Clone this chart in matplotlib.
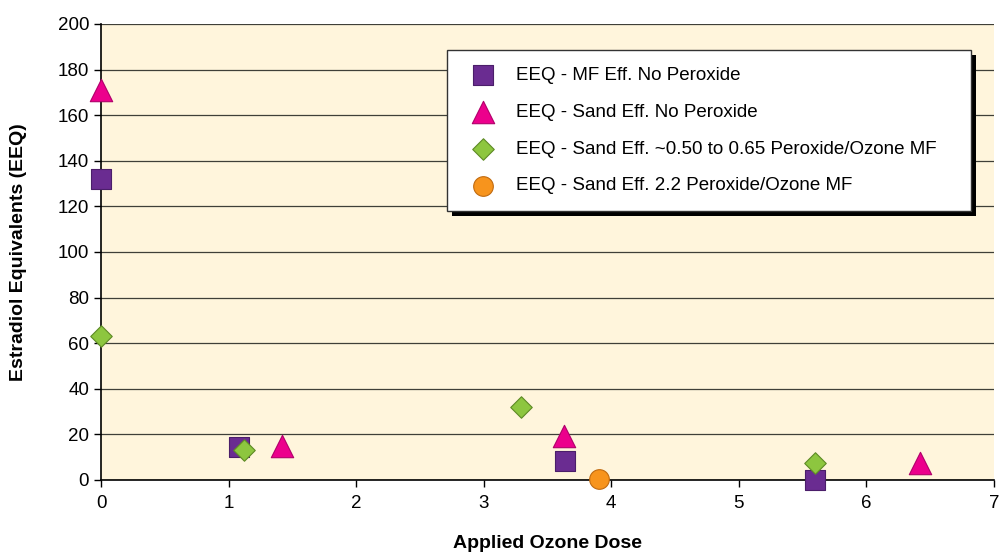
import matplotlib
matplotlib.use("Agg")
import matplotlib.pyplot as plt
from matplotlib.patches import Rectangle
from matplotlib.transforms import IdentityTransform

plt.rcParams['font.family'] = ['Liberation Sans', 'DejaVu Sans']

# Data
mf_x = [0.0, 1.08, 3.64, 5.60]
mf_y = [132.0, 14.5, 8.5, 0.0]
sand_x = [0.0, 1.42, 3.63, 6.42]
sand_y = [171.0, 15.0, 19.5, 7.3]
sand_perox_x = [0.0, 1.12, 3.29, 5.60]
sand_perox_y = [63.3, 13.0, 32.0, 7.5]
sand_22_x = [3.90]
sand_22_y = [0.5]

labels = ["EEQ - MF Eff. No Peroxide",
          "EEQ - Sand Eff. No Peroxide",
          "EEQ - Sand Eff. ~0.50 to 0.65 Peroxide/Ozone MF",
          "EEQ - Sand Eff. 2.2 Peroxide/Ozone MF"]
x_ticks = [0, 1, 2, 3, 4, 5, 6, 7]
y_ticks = [0, 20, 40, 60, 80, 100, 120, 140, 160, 180, 200]

fig = plt.figure(figsize=(10.05, 5.57), dpi=100)
ax = fig.add_axes([101/1005, 1-480/557, 893/1005, 456/557])
ax.set_facecolor('#FFF5DC')

for y in y_ticks:
    ax.axhline(y, color='#3f3f38', lw=0.9, zorder=1)

ax.scatter(mf_x, mf_y, marker='s', s=190, color='#6A2C91', edgecolor='#4B1E6A', lw=0.8, zorder=3, label=labels[0], clip_on=False)
ax.scatter(sand_x, sand_y, marker='^', s=260, color='#EC008C', edgecolor='#B0006A', lw=0.8, zorder=3, label=labels[1], clip_on=False)
ax.scatter(sand_perox_x, sand_perox_y, marker='D', s=120, color='#8DC63F', edgecolor='#5E8A26', lw=0.8, zorder=4, label=labels[2], clip_on=False)
ax.scatter(sand_22_x, sand_22_y, marker='o', s=200, color='#F7941D', edgecolor='#C06A10', lw=0.8, zorder=3, label=labels[3], clip_on=False)

ax.set_xlim(0, 7)
ax.set_ylim(0, 200)
ax.set_xticks(x_ticks)
ax.set_yticks(y_ticks)
ax.tick_params(axis='both', labelsize=13.5, length=5, width=1, color='black', direction='out')
ax.tick_params(axis='x', pad=6)
for s in ['right', 'top']:
    ax.spines[s].set_visible(False)
ax.spines['left'].set_linewidth(1.2)
ax.spines['bottom'].set_linewidth(1.2)

ax.set_xlabel('Applied Ozone Dose', fontsize=14, fontweight='bold', labelpad=16)
ax.set_ylabel('Estradiol Equivalents (EEQ)', fontsize=14, fontweight='bold', labelpad=22)

leg = ax.legend(loc='upper left', bbox_to_anchor=(0.3875, 0.0, 0.587, 0.943), mode='expand',
                borderaxespad=0,
                fontsize=13.5, frameon=True, fancybox=False, edgecolor='#333333',
                framealpha=1, facecolor='white', scatterpoints=1,
                handletextpad=0.8, labelspacing=1.05, borderpad=0.9)
leg.get_frame().set_linewidth(1.0)
leg.set_zorder(10)

fig.canvas.draw()
bb = leg.get_window_extent()
shadow = Rectangle((bb.x0 + 5, bb.y0 - 5), bb.width, bb.height,
                   transform=IdentityTransform(),
                   facecolor='black', edgecolor='none', zorder=9, clip_on=False)
ax.add_patch(shadow)
shadow.set_transform(IdentityTransform())

fig.savefig('out.png', dpi=100)
